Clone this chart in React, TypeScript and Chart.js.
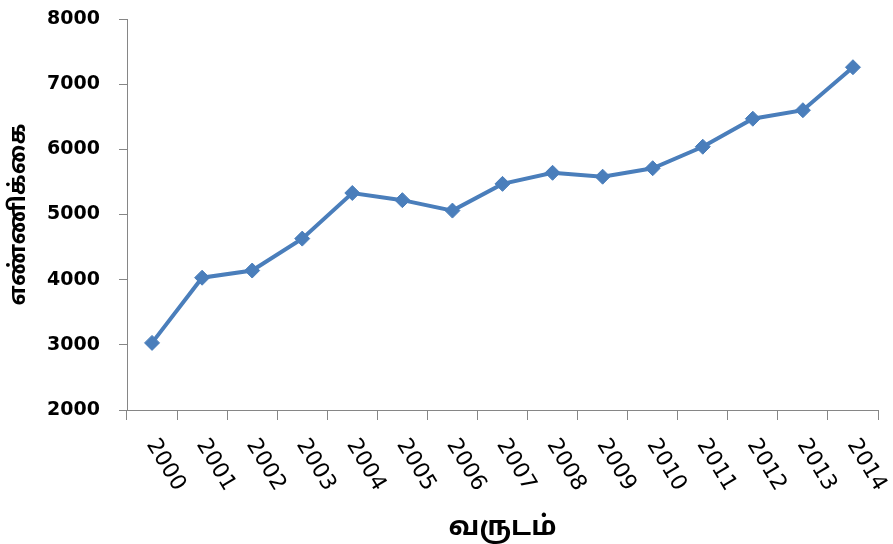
import { useEffect, useRef } from "react";
import { Chart, registerables } from "chart.js";

Chart.register(...registerables);

const years = ["2000", "2001", "2002", "2003", "2004", "2005", "2006", "2007", "2008", "2009", "2010", "2011", "2012", "2013", "2014"];
const counts = [3030, 4030, 4140, 4630, 5330, 5220, 5060, 5470, 5640, 5580, 5710, 6040, 6470, 6600, 7260];
const yMin = 2000;
const yMax = 8000;
const yStep = 1000;
const yTitle = "எண்ணிக்கை";
const xTitle = "வருடம்";

const FONT = "'DejaVu Sans', 'Noto Sans', sans-serif";
const TAMIL_FONT = "'Noto Sans Tamil', 'Lohit Tamil', 'Noto Sans', 'DejaVu Sans', sans-serif";

const rotatedXLabels = {
  id: "rotatedXLabels",
  afterDraw(chart: any) {
    const { ctx } = chart;
    const x = chart.scales.x;
    ctx.save();
    ctx.font = `22px ${FONT}`;
    ctx.fillStyle = "#000000";
    ctx.textAlign = "left";
    ctx.textBaseline = "middle";
    (chart.data.labels as string[]).forEach((lab, i) => {
      const px = x.getPixelForValue(i);
      ctx.save();
      ctx.translate(px - 1, x.top + 31);
      ctx.rotate((59 * Math.PI) / 180);
      ctx.fillText(String(lab), 0, 0);
      ctx.restore();
    });
    ctx.restore();
  },
};

export default function App() {
  const ref = useRef<HTMLCanvasElement | null>(null);

  useEffect(() => {
    if (!ref.current) return;
    const chart = new Chart(ref.current, {
      type: "line",
      data: {
        labels: years,
        datasets: [
          {
            data: counts,
            borderColor: "#4a7ebb",
            backgroundColor: "#4a7ebb",
            borderWidth: 4,
            pointStyle: "rectRot",
            pointRadius: 7.5,
            pointBackgroundColor: "#4a7ebb",
            pointBorderColor: "#4a7ebb",
            pointBorderWidth: 1,
            tension: 0,
          },
        ],
      },
      options: {
        animation: false,
        responsive: false,
        devicePixelRatio: 1,
        layout: { padding: { top: 19, right: 15, bottom: 0, left: 7 } },
        plugins: { legend: { display: false }, tooltip: { enabled: false }, title: { display: false } },
        scales: {
          x: {
            type: "category",
            offset: true,
            grid: { offset: true, drawOnChartArea: false, drawTicks: true, tickLength: 10, color: "#868686" },
            border: { color: "#868686", width: 1 },
            ticks: { display: false },
            title: {
              display: true,
              text: xTitle,
              color: "#000000",
              font: { family: TAMIL_FONT, size: 27, weight: "bold" },
              padding: { top: 93, bottom: -2 },
            },
            afterFit: (s: any) => {
              s.height = 134;
            },
          },
          y: {
            min: yMin,
            max: yMax,
            ticks: {
              stepSize: yStep,
              color: "#000000",
              padding: 19,
              font: { family: FONT, size: 19, weight: "bold" },
              callback: (v: any) => String(v),
            },
            grid: { drawOnChartArea: false, drawTicks: true, tickLength: 8, color: "#868686" },
            border: { color: "#868686", width: 1 },
            title: {
              display: true,
              text: yTitle,
              color: "#000000",
              font: { family: TAMIL_FONT, size: 23, weight: "bold" },
              padding: { top: 0, bottom: 0 },
            },
            afterFit: (s: any) => {
              s.width = 120;
              s.paddingTop = 11;
              s.paddingBottom = 11;
            },
          },
        },
      },
      plugins: [rotatedXLabels],
    });
    return () => chart.destroy();
  }, []);

  return (
    <div style={{ position: "absolute", left: 0, top: 0, width: 893, height: 544, background: "#ffffff" }}>
      <canvas ref={ref} width={893} height={544} />
    </div>
  );
}
